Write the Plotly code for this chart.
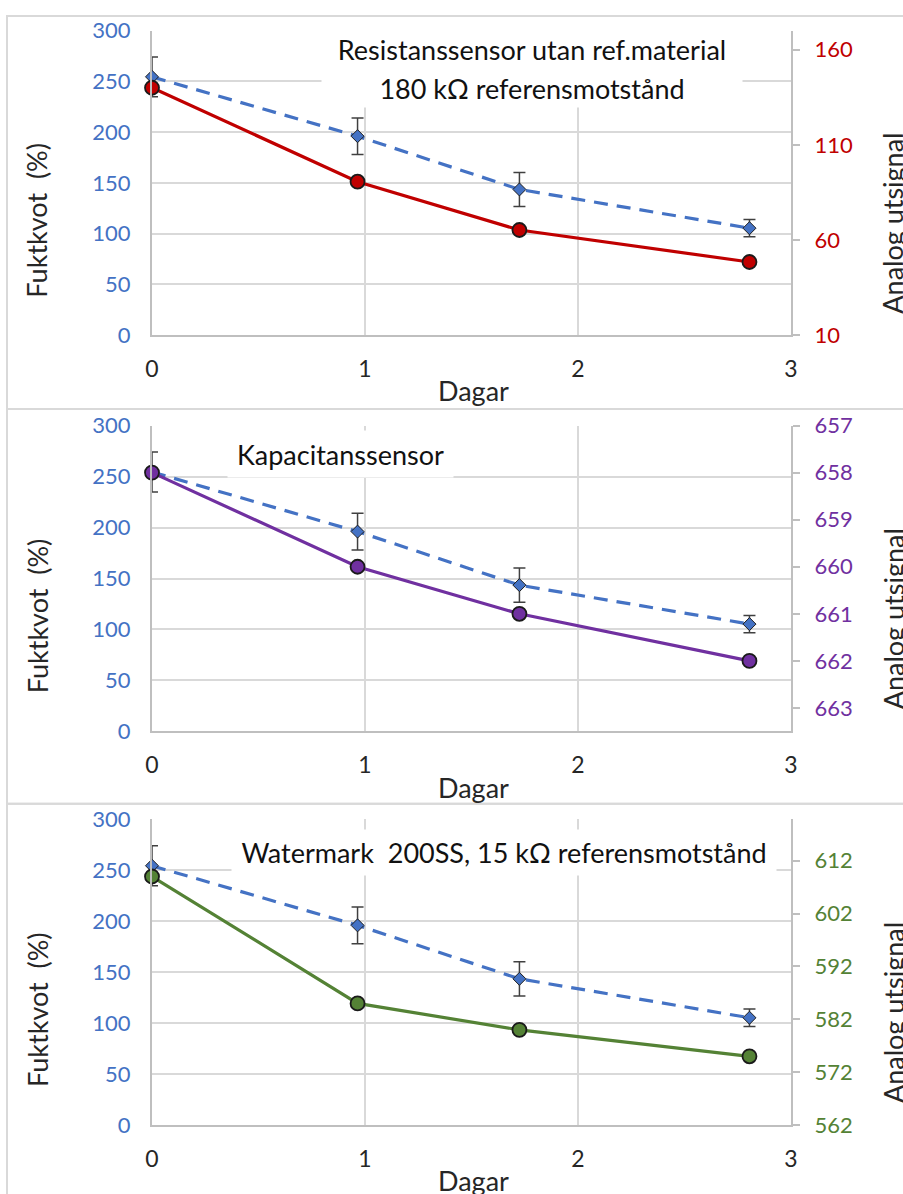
import plotly.graph_objects as go

# ---------------- data ----------------
days = [0, 0.965, 1.725, 2.805]
fuktkvot = [254.5, 196, 143.5, 105.3]
fuktkvot_err = [19.6, 18, 16.8, 8.5]
resistans = [140, 90.6, 65.2, 48.4]
kapacitans = [658, 660, 661, 662]
watermark = [609, 585, 580, 575]

x_ticks = [0, 1, 2, 3]
left_ticks = [0, 50, 100, 150, 200, 250, 300]
res_ticks = [10, 60, 110, 160]
kap_ticks = [657, 658, 659, 660, 661, 662, 663]
wm_ticks = [562, 572, 582, 592, 602, 612]

titles = [
    ["Resistanssensor utan ref.material", "180 kΩ referensmotstånd"],
    ["Kapacitanssensor"],
    ["Watermark  200SS, 15 kΩ referensmotstånd"],
]
sensor_series = [resistans, kapacitans, watermark]
sensor_colors = ["#C00000", "#7030A0", "#548235"]
right_ranges = [[10, 170], [663.5, 657], [562, 619.8]]
right_ticks = [res_ticks, kap_ticks, wm_ticks]

# ---------------- geometry ----------------
W, H = 903, 1194
L, R, T, B = 152, 112, 20, 60
PW, PH = W - L - R, H - T - B

def px(x):
    return (x - L) / PW

def py(y):
    return (H - B - y) / PH

panels = [(24.7, 330.7), (421.7, 729.3), (817.7, 1125.0)]

FONT = "Lato"
BLUE = "#4472C4"
GRID = "#D9D9D9"
AXL = "#BFBFBF"
TXT = "#262626"

fig = go.Figure()
layout = dict(
    width=W, height=H,
    margin=dict(l=L, r=R, t=T, b=B),
    paper_bgcolor="white", plot_bgcolor="white",
    showlegend=False,
    font=dict(family=FONT, size=22, color=TXT),
    annotations=[], shapes=[],
)

for i in range(3):
    xa = "x" if i == 0 else f"x{i+1}"
    ya_l = f"y{2*i+1}" if i > 0 else "y"
    ya_r = f"y{2*i+2}"
    xkey = "xaxis" if i == 0 else f"xaxis{i+1}"
    ylkey = "yaxis" if i == 0 else f"yaxis{2*i+1}"
    yrkey = f"yaxis{2*i+2}"
    top, bot = panels[i]
    dom = [py(bot), py(top)]

    layout[xkey] = dict(
        domain=[0, 1], anchor=ya_l, range=[0, 3], tickvals=x_ticks,
        showgrid=True, gridcolor=GRID, gridwidth=1.5,
        showline=True, linecolor=AXL, linewidth=2, zeroline=False,
        ticks="", ticklabelstandoff=12,
        tickfont=dict(family=FONT, size=23, color=TXT),
    )
    layout[ylkey] = dict(
        domain=dom, anchor=xa, range=[0, 300], tickvals=left_ticks,
        showgrid=True, gridcolor=GRID, gridwidth=1.5,
        showline=True, linecolor=AXL, linewidth=2, zeroline=False,
        ticks="", ticklabelstandoff=15,
        tickfont=dict(family=FONT, size=22, color=BLUE),
    )
    layout[yrkey] = dict(
        overlaying=ya_l, side="right", anchor=xa,
        range=right_ranges[i], tickvals=right_ticks[i],
        showgrid=False, showline=True, linecolor=AXL, linewidth=2,
        zeroline=False, ticks="outside", ticklen=7, tickcolor=AXL, tickwidth=2,
        ticklabelstandoff=10,
        tickfont=dict(family=FONT, size=22, color=sensor_colors[i]),
    )

    # reference moisture ratio (dashed, with error bars)
    fig.add_trace(go.Scatter(
        x=days, y=fuktkvot, xaxis=xa, yaxis=ya_l, mode="lines+markers",
        line=dict(color=BLUE, width=3.2, dash="14px,9px"),
        marker=dict(symbol="diamond", size=10, color=BLUE,
                    line=dict(color="#1F1F1F", width=1)),
        error_y=dict(type="data", array=fuktkvot_err, visible=True,
                     color="#404040", thickness=1.5, width=6),
        cliponaxis=False,
    ))
    # sensor signal
    fig.add_trace(go.Scatter(
        x=days, y=sensor_series[i], xaxis=xa, yaxis=ya_r, mode="lines+markers",
        line=dict(color=sensor_colors[i], width=3.2),
        marker=dict(symbol="circle", size=14, color=sensor_colors[i],
                    line=dict(color="#1A1A1A", width=1.8)),
        cliponaxis=False,
    ))

    # panel frame
    frame_top = [10, 405, 802][i]
    frame_bot = [405, 802, 1200][i]
    layout["shapes"].append(dict(
        type="rect", xref="paper", yref="paper", layer="below",
        x0=px(7), x1=px(920), y0=py(frame_bot), y1=py(frame_top),
        line=dict(color=GRID, width=2), fillcolor="rgba(0,0,0,0)",
    ))

    # axis titles
    yc = (top + bot) / 2 + 38
    layout["annotations"].append(dict(
        text="Fuktkvot  (%)", xref="paper", yref="paper",
        x=px(37), y=py(yc), textangle=-90, showarrow=False,
        xanchor="center", yanchor="middle",
        font=dict(family=FONT, size=27, color=TXT),
    ))
    layout["annotations"].append(dict(
        text="Analog utsignal", xref="paper", yref="paper",
        x=px(893), y=py(yc + 3), textangle=-90, showarrow=False,
        xanchor="center", yanchor="middle",
        font=dict(family=FONT, size=27, color=TXT),
    ))
    layout["annotations"].append(dict(
        text="Dagar", xref="paper", yref="paper",
        x=px(474), y=py(bot + 56), showarrow=False,
        xanchor="center", yanchor="middle",
        font=dict(family=FONT, size=27, color=TXT),
    ))

# chart titles with white boxes
title_boxes = [
    [(322, 742, 24, 63), (322, 742, 63, 101)],
    [(228, 453, 427, 473)],
    [(232, 776, 828, 873)],
]
for i in range(3):
    for line, (x0, x1, y0, y1) in zip(titles[i], title_boxes[i]):
        layout["annotations"].append(dict(
            text=line, xref="paper", yref="paper",
            x=px((x0 + x1) / 2), y=py((y0 + y1) / 2),
            xanchor="center", yanchor="middle", showarrow=False,
            width=x1 - x0, height=y1 - y0, borderpad=0, bgcolor="white",
            align="center", valign="middle",
            font=dict(family=FONT, size=27, color="#111111"),
        ))

fig.update_layout(**layout)
fig.write_html("out.html",
               config={"displayModeBar": False},
               post_script="document.body.style.margin='0px';document.body.style.overflow='hidden';")
